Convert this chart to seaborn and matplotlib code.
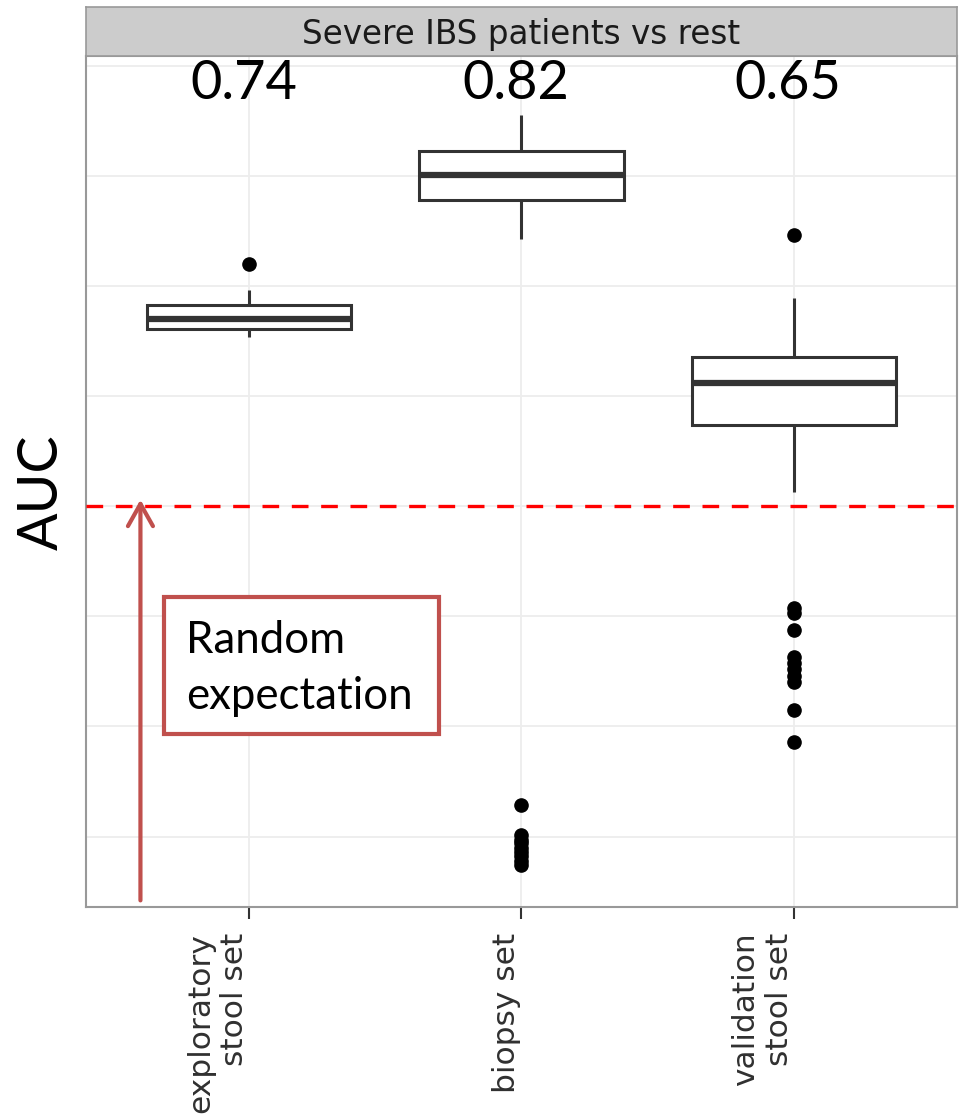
import numpy as np
import pandas as pd
import matplotlib
matplotlib.use("Agg")
import matplotlib.pyplot as plt
import seaborn as sns
from matplotlib.patches import Rectangle

# ---------------- data ----------------
categories = ["exploratory\nstool set", "biopsy set", "validation\nstool set"]
auc_labels = ["0.74", "0.82", "0.65"]
strip_title = "Severe IBS patients vs rest"
random_expectation = 0.5

exploratory_auc = [0.654, 0.657, 0.658, 0.659, 0.660, 0.661, 0.663, 0.665,
                   0.667, 0.668, 0.670, 0.672, 0.675, 0.678, 0.681, 0.683,
                   0.686, 0.689, 0.692, 0.696, 0.720]
biopsy_auc = [0.174, 0.178, 0.182, 0.186, 0.190, 0.194, 0.197, 0.201, 0.229,
              0.743, 0.778, 0.780, 0.783, 0.785, 0.788, 0.790, 0.792, 0.794,
              0.797, 0.799, 0.801, 0.803, 0.805, 0.807, 0.809, 0.811, 0.813,
              0.815, 0.818, 0.820, 0.823, 0.826, 0.829, 0.832, 0.835, 0.838,
              0.841, 0.844, 0.847, 0.851, 0.855]
validation_auc = [0.286, 0.315, 0.340, 0.346, 0.352, 0.358, 0.363, 0.388,
                  0.403, 0.408, 0.513, 0.574, 0.578, 0.582, 0.586, 0.590,
                  0.594, 0.597, 0.600, 0.603, 0.606, 0.609, 0.612, 0.614,
                  0.616, 0.618, 0.620, 0.622, 0.624, 0.626, 0.628, 0.630,
                  0.633, 0.636, 0.641, 0.646, 0.651, 0.656, 0.661, 0.666,
                  0.671, 0.676, 0.682, 0.689, 0.746]

df = pd.DataFrame({
    "set": [categories[0]] * len(exploratory_auc)
         + [categories[1]] * len(biopsy_auc)
         + [categories[2]] * len(validation_auc),
    "AUC": exploratory_auc + biopsy_auc + validation_auc,
})

# ---------------- figure ----------------
sns.set_style("white")
fig = plt.figure(figsize=(9.61, 11.17), dpi=100)
ax = fig.add_axes([0.0895, 0.188, 0.9063, 0.7619])

sns.boxplot(data=df, x="set", y="AUC", order=categories, ax=ax,
            width=0.75, color="white", linecolor="#333333", linewidth=2.2,
            fliersize=9.5, whis=1.5, showcaps=False,
            flierprops=dict(marker="o", markerfacecolor="black",
                            markeredgecolor="black"),
            medianprops=dict(linewidth=4.5, color="#333333"))

ax.set_xlim(-0.6, 2.6)
ax.set_ylim(0.136, 0.909)
ax.set_yticks(np.round(np.arange(0.2, 0.91, 0.1), 2))
ax.set_yticklabels([])
ax.tick_params(axis="y", length=0, left=False)
ax.grid(True, color="#EDEDED", linewidth=1.3)
ax.set_axisbelow(True)

ax.set_xticks(range(len(categories)))
ax.set_xticklabels(categories, rotation=90, ha="right", va="top",
                   multialignment="right", fontsize=22.5, color="#303030",
                   family="DejaVu Sans")
ax.tick_params(axis="x", bottom=True, length=8.6, width=1.5,
               color="#333333", pad=10, direction="out")
ax.set_xlabel("")
ax.set_ylabel("AUC", fontsize=40, family="Lato", color="black", va="center")
ax.yaxis.set_label_coords(-0.0505, 0.4877)

for s in ax.spines.values():
    s.set_visible(True)
    s.set_color("#999999")
    s.set_linewidth(1.5)

# AUC annotations above boxes
for i, lab in enumerate(auc_labels):
    ax.text(i - 0.02, 0.870, lab, ha="center", va="baseline", fontsize=39,
            family="Lato", color="black")

# random expectation line
ax.axhline(random_expectation, color="#FF0000", linewidth=2.4,
           linestyle=(0, (5, 3.8)), zorder=3)

# arrow + annotation box
red2 = "#C0504D"
ax.annotate("", xy=(-0.40, 0.506), xytext=(-0.40, 0.142),
            arrowprops=dict(arrowstyle="->,head_length=0.8,head_width=0.45",
                            color=red2, lw=3, shrinkA=0, shrinkB=0,
                            mutation_scale=20), zorder=4)
ax.add_patch(Rectangle((-0.3125, 0.2927), 1.011, 0.1253, facecolor="white",
                       edgecolor=red2, linewidth=3, zorder=4))
ax.text(-0.2316, 0.3525, "Random\nexpectation", ha="left", va="center",
        fontsize=31.5, family="Lato", color="black", linespacing=1.45,
        zorder=5)

# facet strip
sax = fig.add_axes([0.0895, 0.9499, 0.9063, 0.0438])
sax.set_facecolor("#CCCCCC")
sax.set_xticks([])
sax.set_yticks([])
for s in sax.spines.values():
    s.set_visible(True)
    s.set_color("#999999")
    s.set_linewidth(1.2)
sax.text(0.5, 0.5, strip_title, ha="center", va="center_baseline",
         fontsize=23.5, color="#1A1A1A", family="DejaVu Sans",
         transform=sax.transAxes)

fig.savefig("out.png", dpi=100)
